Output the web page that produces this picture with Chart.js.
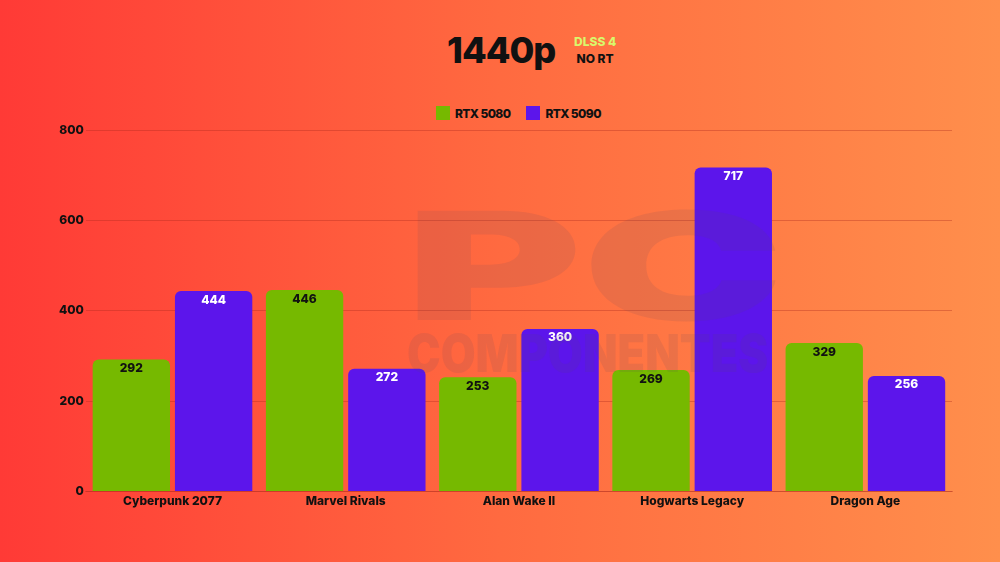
<!DOCTYPE html>
<html>
<head>
<meta charset="utf-8">
<script src="https://cdn.jsdelivr.net/npm/chart.js@4.4.1/dist/chart.umd.min.js"></script>
<style>
  html, body { margin: 0; padding: 0; }
  body {
    width: 1000px; height: 562px; overflow: hidden; position: relative;
    background: linear-gradient(90deg, #ff3a36 0%, #ff6a40 50%, #ff8f4c 100%);
    font-family: Inter, "Noto Sans", sans-serif;
  }
  #title { position: absolute; left: 447px; top: 28px; font-size: 36px; font-weight: 800; color: #111; letter-spacing: -1px; }
  #sub { position: absolute; left: 574px; top: 33px; font-size: 12px; font-weight: 800; line-height: 17px; text-align: center; }
  #sub .a { color: #d9f76c; }
  #sub .b { color: #111; }
  #legend { position: absolute; left: 436px; top: 105px; display: flex; font-size: 12px; font-weight: 800; color: #111; letter-spacing: -0.6px; }
  #legend .item { display: flex; align-items: center; margin-right: 16px; height: 16px; }
  #legend .box { width: 14px; height: 14px; margin-right: 5px; }
  #wrap { position: absolute; left: 0; top: 0; width: 1000px; height: 562px; }
</style>
</head>
<body>
<div id="title">1440p</div>
<div id="sub"><div class="a">DLSS 4</div><div class="b">NO RT</div></div>
<div id="legend"></div>
<div id="wrap"><canvas id="myChart"></canvas></div>
<script>
var games = ["Cyberpunk 2077", "Marvel Rivals", "Alan Wake II", "Hogwarts Legacy", "Dragon Age"];
var rtx5080 = [292, 446, 253, 269, 329];
var rtx5090 = [444, 272, 360, 717, 256];
var yTicks = [0, 200, 400, 600, 800];

// values drawn inside the top of each bar
var barLabels = {
  id: "barLabels",
  afterDatasetsDraw: function (chart) {
    var ctx = chart.ctx;
    ctx.save();
    ctx.font = "800 12px Inter, sans-serif";
    ctx.textAlign = "center";
    ctx.textBaseline = "middle";
    chart.data.datasets.forEach(function (ds, i) {
      chart.getDatasetMeta(i).data.forEach(function (bar, j) {
        ctx.fillStyle = i == 0 ? "#111" : "#fff";
        ctx.fillText(ds.data[j], bar.x, bar.y + 9);
      });
    });
    ctx.restore();
  }
};

// faint logo watermark
var watermark = {
  id: "watermark",
  afterDatasetsDraw: function (chart) {
    var ctx = chart.ctx;
    ctx.save();
    ctx.fillStyle = "rgba(90,70,100,0.12)";
    ctx.textBaseline = "alphabetic";
    ctx.save();
    ctx.translate(405, 320);
    ctx.scale(1.8, 1);
    ctx.font = "900 150px Inter, sans-serif";
    ctx.fillText("PC", 0, 0);
    ctx.restore();
    ctx.save();
    ctx.translate(407, 372);
    ctx.scale(0.9, 1.05);
    ctx.font = "900 50px Inter, sans-serif";
    ctx.fillText("COMPONENTES", 0, 0);
    ctx.restore();
    ctx.restore();
  }
};

var myChart = new Chart(document.getElementById("myChart"), {
  type: "bar",
  data: {
    labels: games,
    datasets: [
      { label: "RTX 5080", data: rtx5080, backgroundColor: "#76b900", borderRadius: { topLeft: 6, topRight: 6 }, borderSkipped: "bottom" },
      { label: "RTX 5090", data: rtx5090, backgroundColor: "#5c15eb", borderRadius: { topLeft: 6, topRight: 6 }, borderSkipped: "bottom" }
    ]
  },
  options: {
    responsive: true,
    maintainAspectRatio: false,
    animation: false,
    layout: { padding: { top: 130, left: 57, right: 48, bottom: 50 } },
    datasets: { bar: { categoryPercentage: 0.95, barPercentage: 0.94 } },
    plugins: {
      legend: { display: false },
      tooltip: { enabled: false }
    },
    scales: {
      x: {
        grid: { display: false, drawTicks: false },
        border: { color: "rgba(170,40,30,0.35)" },
        ticks: { color: "#111", padding: 3, font: { family: "Inter", size: 12, weight: "800" } }
      },
      y: {
        min: 0, max: 800,
        afterBuildTicks: function (axis) { axis.ticks = yTicks.map(function (v) { return { value: v }; }); },
        grid: { color: "rgba(170,40,30,0.35)", drawTicks: false },
        border: { display: false },
        ticks: { color: "#111", padding: 2, font: { family: "Inter", size: 12, weight: "800" } }
      }
    }
  },
  plugins: [barLabels, watermark]
});

// legend built from the datasets
var legend = document.getElementById("legend");
myChart.data.datasets.forEach(function (ds) {
  var item = document.createElement("div");
  item.className = "item";
  var box = document.createElement("span");
  box.className = "box";
  box.style.background = ds.backgroundColor;
  item.appendChild(box);
  item.appendChild(document.createTextNode(ds.label));
  legend.appendChild(item);
});
</script>
</body>
</html>
